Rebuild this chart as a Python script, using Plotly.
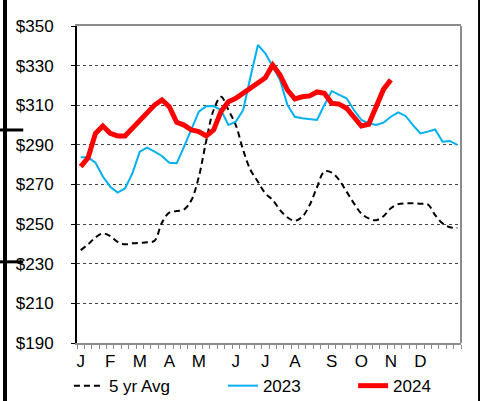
import plotly.graph_objects as go

# weekly index 0..51
weeks = list(range(52))

month_pos = [0, 4, 8, 12, 16, 21, 25, 29, 34, 38, 42, 46]
month_labels = ["J", "F", "M", "A", "M", "J", "J", "A", "S", "O", "N", "D"]

avg_5yr = [236.9, 239.8, 243.3, 245.3, 244.0, 241.1, 239.8, 240.3, 240.6, 240.8,
           241.6, 250.7, 255.8, 256.6, 257.4, 262.2, 273.9, 292.0, 307.6, 314.3,
           307.6, 300.0, 287.4, 277.3, 271.4, 265.5, 262.2, 257.1, 253.4, 251.7,
           253.7, 259.6, 268.6, 276.5, 276.0, 272.3, 266.4, 260.5, 255.4, 252.9,
           252.0, 254.0, 258.0, 260.1, 260.5, 260.5, 260.3, 260.0, 254.6, 250.4,
           248.4, 248.0]

y2023 = [283.7, 283.7, 281.0, 274.0, 268.9, 265.9, 268.0, 275.6, 286.6, 288.6,
         286.6, 284.4, 281.0, 280.7, 289.1, 298.4, 306.8, 309.5, 309.6, 307.6,
         300.0, 301.7, 307.6, 324.4, 340.4, 336.2, 329.5, 322.8, 310.1, 304.2,
         303.4, 303.0, 302.6, 310.1, 317.2, 315.2, 313.5, 307.6, 302.6, 300.9,
         300.0, 301.2, 304.2, 306.4, 304.6, 300.0, 295.8, 296.7, 297.8, 291.6,
         292.0, 290.0]

y2024 = [279.0, 283.5, 295.8, 299.5, 295.8, 294.5, 294.5, 298.4, 302.9, 305.9,
         310.1, 312.7, 309.3, 301.4, 300.0, 297.5, 296.7, 294.5, 297.5, 306.8,
         311.8, 313.5, 316.0, 318.6, 321.4, 323.9, 330.3, 325.3, 317.7, 313.2,
         314.3, 314.7, 316.7, 316.0, 311.0, 310.6, 308.5, 303.9, 299.5, 300.4,
         309.3, 318.0, 322.8]

font = "Liberation Sans, Arial, sans-serif"
frame_gray = "#8c8c8c"

fig = go.Figure()
fig.add_trace(go.Scatter(x=weeks, y=avg_5yr, name="5 yr Avg", mode="lines",
                         line=dict(color="black", width=2, dash="6px,4px", shape="spline"),
                         legend="legend"))
fig.add_trace(go.Scatter(x=weeks, y=y2023, name="2023", mode="lines",
                         line=dict(color="#00b0f0", width=2),
                         legend="legend2"))
fig.add_trace(go.Scatter(x=weeks[:len(y2024)], y=y2024, name="2024", mode="lines",
                         line=dict(color="#ff0000", width=5),
                         legend="legend3"))

# one legend per entry so each item can sit where the original has it
legend_common = dict(orientation="h", xref="paper", yref="paper",
                     xanchor="left", yanchor="middle", y=-0.136,
                     bgcolor="rgba(0,0,0,0)",
                     font=dict(family=font, size=17, color="black"))
fig.update_layout(
    showlegend=True,
    legend=dict(x=-0.021, **legend_common),
    legend2=dict(x=0.380, **legend_common),
    legend3=dict(x=0.719, **legend_common),
)

fig.update_xaxes(
    range=[-0.5, 51.5],
    tickmode="array", tickvals=month_pos, ticktext=month_labels,
    ticks="", showgrid=False, zeroline=False,
    showline=True, linecolor=frame_gray, linewidth=2, mirror=True,
    minor=dict(tickmode="linear", tick0=-0.5, dtick=1, ticks="outside",
               ticklen=4, tickcolor=frame_gray, tickwidth=1, showgrid=False),
    tickfont=dict(family=font, size=17, color="black"),
    ticklabelstandoff=2,
)
fig.update_yaxes(
    range=[190, 350], dtick=20, tick0=190, tickprefix="$",
    ticks="outside", ticklen=4, tickcolor="black",
    showgrid=True, gridcolor="#444444", griddash="dot", gridwidth=1,
    zeroline=False, showline=True, linecolor="black", linewidth=2,
    tickfont=dict(family=font, size=17, color="black"),
    ticklabelstandoff=14,
)

# right frame edge and slide borders
fig.add_shape(type="line", xref="paper", yref="paper", x0=1, x1=1, y0=0, y1=1,
              line=dict(color=frame_gray, width=2))
fig.add_shape(type="line", xref="paper", yref="paper", x0=-0.1875, x1=-0.1875,
              y0=-0.2, y1=1.1, line=dict(color="black", width=4))
fig.add_shape(type="line", xref="paper", yref="paper", x0=-0.21, x1=-0.14,
              y0=0.672, y1=0.672, line=dict(color="black", width=3))
fig.add_shape(type="line", xref="paper", yref="paper", x0=-0.21, x1=-0.14,
              y0=0.256, y1=0.256, line=dict(color="black", width=3))
fig.add_shape(type="line", xref="paper", yref="paper", x0=1.047, x1=1.047,
              y0=-0.2, y1=1.1, line=dict(color="black", width=2))

fig.update_layout(
    width=480, height=401,
    margin=dict(l=77, r=19, t=26, b=58, autoexpand=False),
    paper_bgcolor="white", plot_bgcolor="white",
    font=dict(family=font, size=17, color="black"),
)

fig.write_html("out.html", config={"displayModeBar": False},
               post_script="document.body.style.margin = '0';")
